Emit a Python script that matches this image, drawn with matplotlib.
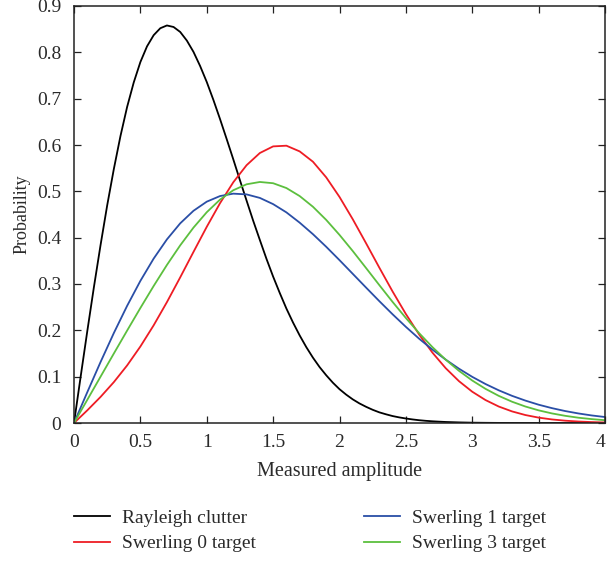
import matplotlib
matplotlib.use("Agg")
import matplotlib.pyplot as plt
import matplotlib.transforms as mtransforms

# ---- data ----
x_clutter = [0.0, 0.05, 0.1, 0.15, 0.2, 0.25, 0.3, 0.35, 0.4, 0.45, 0.5, 0.55, 0.6, 0.65, 0.7, 0.75,
             0.8, 0.85, 0.9, 0.95, 1.0, 1.05, 1.1, 1.15, 1.2, 1.25, 1.3, 1.35, 1.4, 1.45, 1.5, 1.55,
             1.6, 1.65, 1.7, 1.75, 1.8, 1.85, 1.9, 1.95, 2.0, 2.05, 2.1, 2.15, 2.2, 2.25, 2.3, 2.35,
             2.4, 2.45, 2.5, 2.55, 2.6, 2.65, 2.7, 2.75, 2.8, 2.9, 3.0, 3.1, 3.2, 3.3, 3.4, 3.6,
             3.8, 4.0]
rayleigh_clutter = [0.0, 0.0998, 0.198, 0.2933, 0.384, 0.4697, 0.548, 0.6193, 0.682, 0.735, 0.779,
                    0.8129, 0.837, 0.852, 0.858, 0.8547, 0.844, 0.8254, 0.801, 0.7705, 0.736, 0.6973,
                    0.656, 0.6129, 0.569, 0.524, 0.480, 0.4364, 0.395, 0.3542, 0.316, 0.2806, 0.247,
                    0.2168, 0.189, 0.1637, 0.141, 0.1207, 0.103, 0.087, 0.073, 0.0613, 0.051, 0.0423,
                    0.035, 0.0285, 0.023, 0.0188, 0.015, 0.0121, 0.0097, 0.0077, 0.006, 0.0047,
                    0.0037, 0.0029, 0.0022, 0.0013, 0.0007, 0.0004, 0.0002, 0.0001, 0.0, 0.0,
                    0.0, 0.0]

x_target = [0.0, 0.1, 0.2, 0.3, 0.4, 0.5, 0.6, 0.7, 0.8, 0.9, 1.0, 1.1, 1.2, 1.3, 1.4, 1.5, 1.6,
            1.7, 1.8, 1.9, 2.0, 2.1, 2.2, 2.3, 2.4, 2.5, 2.6, 2.7, 2.8, 2.9, 3.0, 3.1, 3.2, 3.3,
            3.4, 3.5, 3.6, 3.7, 3.8, 3.9, 4.0]
swerling0 = [0.0, 0.0273, 0.0563, 0.0882, 0.1242, 0.1651, 0.2108, 0.2609, 0.3143, 0.3692, 0.4234,
             0.4744, 0.5196, 0.5564, 0.5827, 0.5970, 0.5985, 0.5862, 0.5639, 0.5301, 0.4879,
             0.4397, 0.3880, 0.3353, 0.2838, 0.2352, 0.1910, 0.1519, 0.1183, 0.0903, 0.0675,
             0.0495, 0.0355, 0.0250, 0.0172, 0.0116, 0.0077, 0.0050, 0.0032, 0.0020, 0.0012]
swerling1 = [0.0, 0.0664, 0.1316, 0.1941, 0.2528, 0.3067, 0.3548, 0.3963, 0.4309, 0.4580, 0.4777,
             0.4898, 0.4950, 0.4934, 0.4858, 0.4724, 0.4546, 0.4324, 0.4075, 0.3803, 0.3515,
             0.3219, 0.2923, 0.2630, 0.2346, 0.2075, 0.1819, 0.1584, 0.1368, 0.1172, 0.0996,
             0.0841, 0.0705, 0.0586, 0.0484, 0.0395, 0.0321, 0.0258, 0.0206, 0.0163, 0.0129]
swerling3 = [0.0, 0.0500, 0.1000, 0.1499, 0.1994, 0.2482, 0.2957, 0.3411, 0.3834, 0.4217, 0.4549,
             0.4821, 0.5024, 0.5152, 0.5202, 0.5175, 0.5071, 0.4898, 0.4667, 0.4383, 0.4060,
             0.3711, 0.3345, 0.2976, 0.2613, 0.2266, 0.1939, 0.1638, 0.1367, 0.1126, 0.0917,
             0.0737, 0.0585, 0.0459, 0.0356, 0.0273, 0.0207, 0.0155, 0.0114, 0.0084, 0.0060]

labels = ["Rayleigh clutter", "Swerling 0 target", "Swerling 1 target", "Swerling 3 target"]
xticks = [0, 0.5, 1, 1.5, 2, 2.5, 3, 3.5, 4]
xtick_labels = ["0", "0.5", "1", "1.5", "2", "2.5", "3", "3.5", "4"]
yticks = [0, 0.1, 0.2, 0.3, 0.4, 0.5, 0.6, 0.7, 0.8, 0.9]
ytick_labels = ["0", "0.1", "0.2", "0.3", "0.4", "0.5", "0.6", "0.7", "0.8", "0.9"]

plt.rcParams["font.family"] = ["Liberation Serif", "DejaVu Serif"]
plt.rcParams["font.size"] = 14

txt = "#2a2a2a"
fig = plt.figure(figsize=(6.08, 5.63), dpi=100)
ax = fig.add_axes([74 / 608, (563 - 423) / 563, 531 / 608, 417 / 563])

c_black = "#000000"
c_red = "#ee1c24"
c_blue = "#2a4ea6"
c_green = "#5cbf3e"
lw = 1.3

l0, = ax.plot(x_clutter, rayleigh_clutter, color=c_black, lw=lw)
l1, = ax.plot(x_target, swerling0, color=c_red, lw=lw)
l2, = ax.plot(x_target, swerling1, color=c_blue, lw=lw)
l3, = ax.plot(x_target, swerling3, color=c_green, lw=lw)

ax.set_xlim(0, 4)
ax.set_ylim(0, 0.9)
ax.set_xticks(xticks)
ax.set_xticklabels(xtick_labels)
ax.set_yticks(yticks)
ax.set_yticklabels(ytick_labels)
ax.tick_params(direction="in", top=True, right=True, length=5, width=0.9, colors="#222222",
               labelcolor=txt, labelsize=14)
ax.tick_params(axis="x", pad=8)
ax.tick_params(axis="y", pad=9)
for s in ax.spines.values():
    s.set_linewidth(1.1)
    s.set_color("#222222")

# keep the last x tick label ("4") inside the figure edge
last = ax.get_xticklabels()[-1]
last.set_transform(last.get_transform() +
                   mtransforms.ScaledTranslation(-4 / 100, 0, fig.dpi_scale_trans))

ax.set_xlabel("Measured amplitude", labelpad=8, color=txt, fontsize=14.5)
ax.set_ylabel("Probability", labelpad=5, color=txt, fontsize=13)

leg_kw = dict(frameon=False, loc="upper left", borderpad=0, borderaxespad=0,
              handlelength=1.85, handletextpad=0.62, labelspacing=0.42, fontsize=14)
leg1 = fig.legend([l0, l1], labels[:2], bbox_to_anchor=(74 / 608, 1 - 509 / 563), **leg_kw)
leg2 = fig.legend([l2, l3], labels[2:], bbox_to_anchor=(364 / 608, 1 - 509 / 563), **leg_kw)
for leg in (leg1, leg2):
    for t in leg.get_texts():
        t.set_color(txt)

fig.savefig("out.png", dpi=100)
